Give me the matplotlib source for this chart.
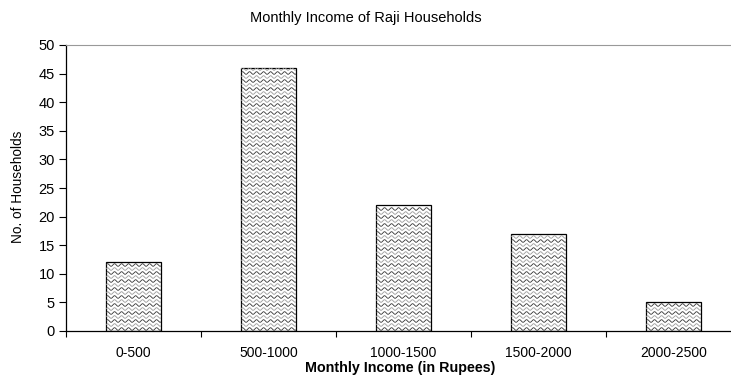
import numpy as np
import matplotlib
matplotlib.use("Agg")
import matplotlib.pyplot as plt

# data
income_bins = ["0-500", "500-1000", "1000-1500", "1500-2000", "2000-2500"]
households = [12, 46, 22, 17, 5]

plt.rcParams['font.family'] = ['Liberation Sans', 'DejaVu Sans']

W, H = 731, 377
fig = plt.figure(figsize=(W / 100, H / 100), dpi=100)
ax = fig.add_axes([66 / W, (H - 331) / H, 675 / W, 286 / H])

x = np.arange(len(income_bins))
bars = ax.bar(x, households, width=0.41, color="white",
              edgecolor="black", linewidth=0.9, zorder=2)

ax.set_xlim(-0.5, len(income_bins) - 0.5)
ax.set_ylim(0, 50)

# wavy fill inside each bar (no wave hatch in matplotlib, so draw it)
px_x = (len(income_bins)) / 675.0   # data units per pixel, x
px_y = 50 / 286.0                   # data units per pixel, y
for b in bars:
    x0, w, h = b.get_x(), b.get_width(), b.get_height()
    xs = np.linspace(x0, x0 + w, 200)
    k = 0
    yy = 2.0 * px_y
    while yy < h - 1.0 * px_y:
        col = "#333333" if k % 2 == 0 else "#999999"
        ys = yy + 1.3 * px_y * np.sin(2 * np.pi * (xs - x0) / (7 * px_x))
        ln, = ax.plot(xs, ys, color=col, linewidth=0.6, zorder=3)
        ln.set_clip_path(b)
        yy += 4.0 * px_y
        k += 1

ax.set_yticks(range(0, 51, 5))
ax.set_xticks(x)
ax.set_xticklabels(income_bins, fontsize=10)
ax.set_xticks(np.arange(-0.5, len(income_bins), 1), minor=True)
ax.tick_params(axis="x", which="major", length=0, pad=11)
ax.tick_params(axis="x", which="minor", length=4, direction="out", width=0.8)
ax.tick_params(axis="y", length=5, direction="out", width=0.8, labelsize=10.5, pad=3)

ax.spines["right"].set_visible(False)
ax.spines["top"].set_color("#999999")
ax.spines["top"].set_linewidth(0.8)
ax.spines["left"].set_linewidth(0.9)
ax.spines["bottom"].set_linewidth(0.9)

# axis titles and chart title placed in figure pixels
fig.text(18 / W, 1 - 187 / H, "No. of Households", rotation=90,
         ha="center", va="center", fontsize=9.8)
fig.text(400 / W, 1 - 368 / H, "Monthly Income (in Rupees)",
         ha="center", va="center", fontsize=10.3, fontweight="bold")
fig.text(366 / W, 1 - 18 / H, "Monthly Income of Raji Households",
         ha="center", va="center", fontsize=10.5)

fig.savefig("out.png", dpi=100)
